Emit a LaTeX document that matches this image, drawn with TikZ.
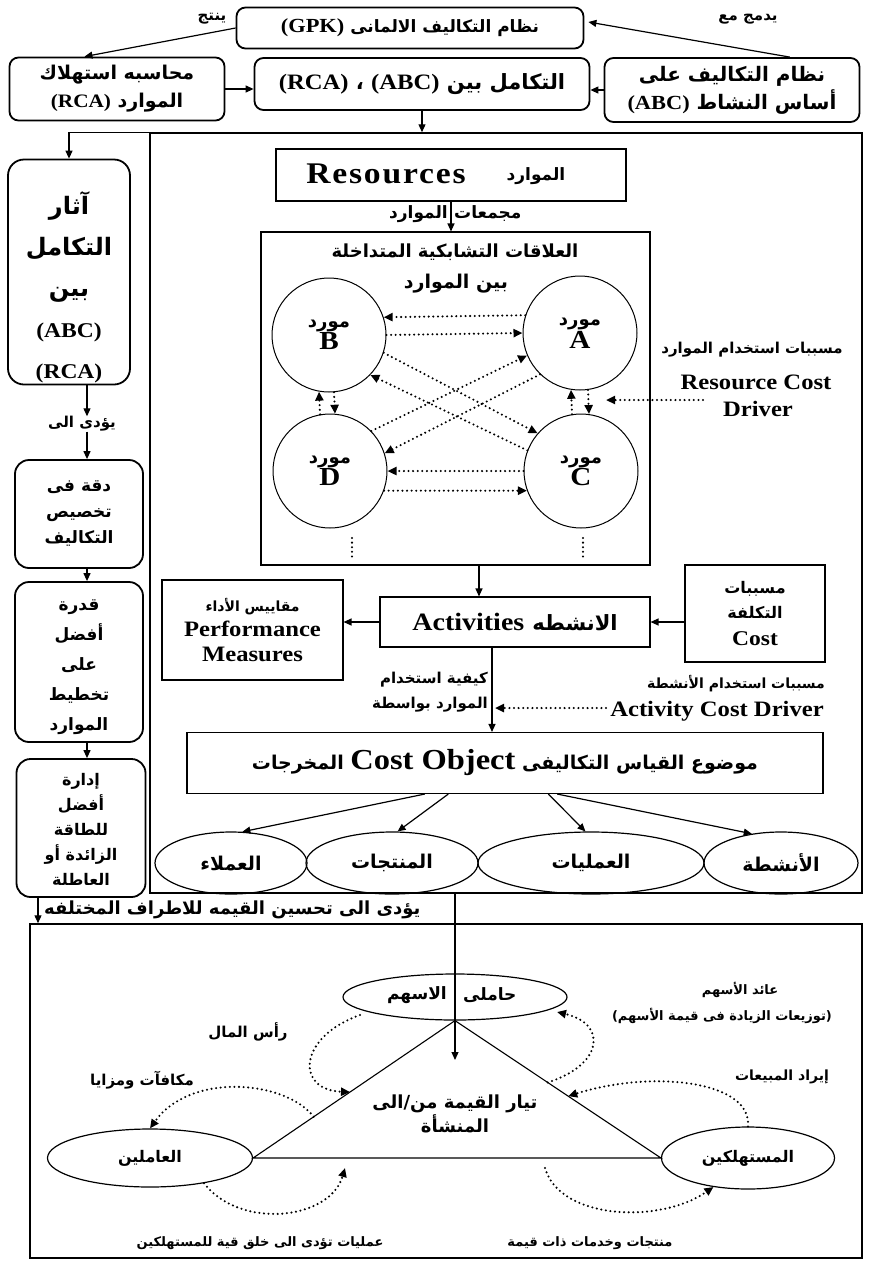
\documentclass[tikz,border=0pt]{standalone}
\usepackage{fontspec}
\setmainfont[FakeStretch=1.12]{Liberation Serif}
\newfontfamily\arabicfont[Script=Arabic]{DejaVu Sans}
\TeXXeTstate=1
\usetikzlibrary{arrows.meta,calc,shapes.geometric}
\newcommand\AR[1]{{\arabicfont\bfseries\beginR #1\endR}}
\newcommand\EN[1]{\beginL{\rmfamily\bfseries #1}\endL}
\newcommand\fsz[2]{\fontsize{#1}{#2}\selectfont}
\begin{document}
\begin{tikzpicture}[x=1pt,y=-1pt,
  rbox/.style={draw,line width=1.8pt,rounded corners=9pt,align=center,inner sep=1pt},
  sbox/.style={draw,line width=1.1pt,align=center,inner sep=1pt},
  lbl/.style={align=center,inner sep=0pt},
  arr/.style={line width=1.2pt,-{Triangle[length=8pt,width=7pt]}},
  darr/.style={line width=2.3pt,line cap=round,dash pattern=on 0pt off 4.6pt,-{Triangle[length=9pt,width=8pt]}},
  dline/.style={line width=2.3pt,line cap=round,dash pattern=on 0pt off 4.6pt},
  res/.style={draw,circle,line width=1pt,minimum size=114,align=center,inner sep=0pt},
  elli/.style={draw,ellipse,line width=1.2pt,align=center,inner sep=0pt}]
\useasboundingbox (0,0) rectangle (875,1267);
\fill[white] (0,0) rectangle (875,1267);

% ---------- top row ----------
\node[rbox,minimum width=347,minimum height=41] (gpk) at (410,28) {\fsz{17}{20}\AR{نظام التكاليف الالمانى \EN{\fsz{20}{20}(GPK)}}};
\node[rbox,minimum width=215,minimum height=63,font=\fsz{19}{28}] (rca) at (117,89) {\AR{محاسبه استهلاك}\\\AR{الموارد \EN{(RCA)}}};
\node[rbox,minimum width=335,minimum height=52] (integ) at (422,84) {\fsz{21}{22}\AR{التكامل بين \EN{\fsz{22}{22}(ABC)} ، \EN{\fsz{22}{22}(RCA)}}};
\node[rbox,minimum width=255,minimum height=64,font=\fsz{20}{28}] (abc) at (732,90) {\AR{نظام التكاليف على}\\\AR{أساس النشاط \EN{(ABC)}}};
\node[lbl] (ynt) at (212,19) {\fsz{15}{17}\AR{ينتج}};
\node[lbl] (ydm) at (748,19) {\fsz{15}{17}\AR{يدمج مع}};
\draw[arr] (gpk.west) -- ($(rca.north)!0.3!(rca.north west)$);
\draw[arr] ($(abc.north)!0.45!(abc.north east)$) -- ($(gpk.east)+(4,-6)$);
\draw[arr] (rca.east) -- (rca.east -| integ.west);
\draw[arr] (abc.west) -- (abc.west -| integ.east);

% ---------- big box ----------
\node[draw,line width=1.5pt,minimum width=712,minimum height=760,inner sep=0pt] (big) at (506,513) {};
\draw[arr] (integ.south) -- (integ.south |- big.north);

% ---------- left column ----------
\node[rbox,rounded corners=16pt,minimum width=122,minimum height=225] (box1) at (69,272) {};
\node[lbl,font=\fsz{24}{41}] (box1t) at (69,287)
  {\AR{آثار}\\\AR{التكامل}\\\AR{بين}\\\EN{\fsz{21}{38}(ABC)}\\\EN{\fsz{21}{36}(RCA)}};
\draw[arr] (big.north west) -| (box1.north);
\coordinate (lx) at (87,0);
\node[lbl] (yd) at (82,424) {\fsz{15}{17}\AR{يؤدى الى}};
\node[rbox,rounded corners=14pt,minimum width=128,minimum height=108,font=\fsz{17}{26}] (box2) at (79,514)
  {\AR{دقة فى}\\\AR{تخصيص}\\\AR{التكاليف}};
\node[rbox,rounded corners=14pt,minimum width=128,minimum height=160] (box3) at (79,662) {};
\node[lbl,font=\fsz{17}{30}] (box3t) at (79,667)
  {\AR{قدرة}\\\AR{أفضل}\\\AR{على}\\\AR{تخطيط}\\\AR{الموارد}};
\node[rbox,rounded corners=14pt,minimum width=129,minimum height=138] (box4) at (81,828) {};
\node[lbl,font=\fsz{16}{25}] (box4t) at (81,829)
  {\AR{إدارة}\\\AR{أفضل}\\\AR{للطاقة}\\\AR{الزائدة أو}\\\AR{العاطلة}};
\draw[arr] (box1.south -| lx) -- (yd.north -| lx);
\draw[arr] (yd.south -| lx) -- (box2.north -| lx);
\draw[arr] (box2.south -| lx) -- (box3.north -| lx);
\draw[arr] (box3.south -| lx) -- (box4.north -| lx);

% ---------- resources ----------
\node[sbox,minimum width=350,minimum height=52] (res) at (451,175) {};
\node[lbl] (resen) at (386,174) {\fsz{30}{30}\EN{\addfontfeature{LetterSpace=6}Resources}};
\node[lbl] (resar) at (536,176) {\fsz{17}{18}\AR{الموارد}};
\node[draw,line width=1.1pt,minimum width=389,minimum height=333,inner sep=0pt] (inner) at (455.5,398.5) {};
\draw[arr] (res.south) -- (res.south |- inner.north);
\node[lbl,anchor=west] (mj1) at (454,214) {\fsz{17}{19}\AR{مجمعات}};
\node[lbl,anchor=east] (mj2) at (448,214) {\fsz{17}{19}\AR{الموارد}};
\node[lbl] (t1) at (455,252) {\fsz{18}{20}\AR{العلاقات التشابكية المتداخلة}};
\node[lbl] (t2) at (456,284) {\fsz{19}{21}\AR{بين الموارد}};

\node[res] (B) at (329,335) {\fsz{18}{26}\AR{مورد}\\\fsz{26}{28}\EN{B}};
\node[res] (A) at (580,333) {\fsz{18}{26}\AR{مورد}\\\fsz{26}{28}\EN{A}};
\node[res] (D) at (330,471) {\fsz{18}{26}\AR{مورد}\\\fsz{26}{28}\EN{D}};
\node[res] (C) at (581,471) {\fsz{18}{26}\AR{مورد}\\\fsz{26}{28}\EN{C}};

\draw[darr] (A.162) -- (B.18);
\draw[darr] (B.0) -- (A.180);
\draw[darr] (C.180) -- (D.0);
\draw[darr] (D.-20) -- (C.200);
\draw[darr] (B.-18) -- (C.139);
\draw[darr] (C.159) -- (B.-44);
\draw[darr] (D.44) -- (A.203);
\draw[darr] (A.226) -- (D.18);
\draw[darr] (D.100) -- (B.260);
\draw[darr] (B.275) -- (D.85);
\draw[darr] (C.99) -- (A.261);
\draw[darr] (A.278) -- (C.82);
\coordinate (dd1) at (352,538);
\coordinate (dd2) at (352,560);
\coordinate (dc1) at (583,538);
\coordinate (dc2) at (583,560);
\draw[dline] (dd1) -- (dd2);
\draw[dline] (dc1) -- (dc2);

\node[lbl] (rc1) at (752,350) {\fsz{15}{17}\AR{مسببات استخدام الموارد}};
\node[lbl] (rc2) at (756,382) {\fsz{22}{24}\EN{Resource Cost}};
\node[lbl] (rc3) at (758,409) {\fsz{22}{24}\EN{Driver}};
\coordinate (rcs) at (703,400);
\coordinate (rce) at (606,400);
\draw[darr] (rcs) -- (rce);

% ---------- activities ----------
\node[sbox,minimum width=270,minimum height=50] (act) at (515,622)
  {\fsz{25}{27}\EN{Activities}\hspace{8pt}\fsz{21}{24}\AR{الانشطه}};
\node[sbox,minimum width=181,minimum height=100,font=\fsz{22}{25}] (perf) at (252.5,630)
  {\fsz{14}{25}\AR{مقاييس الأداء}\\\EN{Performance}\\\EN{Measures}};
\node[sbox,minimum width=140,minimum height=97,font=\fsz{16}{25}] (cost) at (755,613.5)
  {\AR{مسببات}\\\AR{التكلفة}\\[2pt]\EN{\fsz{21}{25}Cost}};
\coordinate (ix) at (479,0);
\draw[arr] (inner.south -| ix) -- (act.north -| ix);
\draw[arr] (act.west) -- (act.west -| perf.east);
\draw[arr] (cost.west |- act.east) -- (act.east);

\node[sbox,minimum width=636,minimum height=61] (co) at (505,763)
  {\fsz{19}{24}\AR{موضوع القياس التكاليفى \EN{\fsz{29}{30}Cost Object} المخرجات}};
\coordinate (ax) at (492,0);
\draw[arr] (act.south -| ax) -- (co.north -| ax);
\node[lbl,anchor=east] (k1) at (488,680) {\fsz{15}{17}\AR{كيفية استخدام}};
\node[lbl,anchor=east] (k2) at (488,705) {\fsz{15}{17}\AR{الموارد بواسطة}};
\node[lbl] (m1) at (736,684) {\fsz{14}{16}\AR{مسببات استخدام الأنشطة}};
\node[lbl] (m2) at (717,711) {\fsz{22}{24}\EN{Activity Cost Driver}};
\coordinate (acs) at (606,708);
\coordinate (ace) at (495,708);
\draw[darr] (acs) -- (ace);

\node[elli,minimum width=152,minimum height=62] (cust) at (231,863) {\fsz{19}{21}\AR{العملاء}};
\node[elli,minimum width=172,minimum height=62] (prod) at (392,863) {\fsz{19}{21}\AR{المنتجات}};
\node[elli,minimum width=226,minimum height=62] (ops) at (591,863) {\fsz{19}{21}\AR{العمليات}};
\node[elli,minimum width=154,minimum height=62] (acts) at (781,863) {\fsz{19}{21}\AR{الأنشطة}};
\draw[arr] ($(co.south west)!0.374!(co.south east)$) -- (cust.70);
\draw[arr] ($(co.south west)!0.411!(co.south east)$) -- (prod.80);
\draw[arr] ($(co.south west)!0.568!(co.south east)$) -- (ops.100);
\draw[arr] ($(co.south west)!0.582!(co.south east)$) -- (acts.135);

% ---------- bottom ----------
\node[lbl,anchor=west] (ydt) at (44,910) {\fsz{18}{20}\AR{يؤدى الى تحسين القيمه للاطراف المختلفه}};
\node[draw,line width=1.5pt,minimum width=832,minimum height=334,inner sep=0pt] (bot) at (446,1091) {};
\coordinate (bx) at (38,0);
\draw[arr] (box4.south -| bx) -- (bot.north -| bx);

\node[elli,minimum width=224,minimum height=46] (sh) at (455,997) {};
\node[lbl,anchor=west] (sh1) at (463,995) {\fsz{17}{19}\AR{حاملى}};
\node[lbl,anchor=east] (sh2) at (447,995) {\fsz{17}{19}\AR{الاسهم}};
\node[elli,minimum width=205,minimum height=58] (work) at (150,1158) {\fsz{16}{18}\AR{العاملين}};
\node[elli,minimum width=173,minimum height=62] (cons) at (748,1158) {\fsz{16}{18}\AR{المستهلكين}};
\coordinate (fe) at (455,1060);
\draw[arr] (sh.south |- big.south) -- (fe);
\draw[line width=1.1pt] (sh.south) -- (work.east) -- (cons.west) -- cycle;
\node[lbl,font=\fsz{18}{24}] (flow) at (455,1114) {\AR{تيار القيمة من/الى}\\\AR{المنشأة}};

\coordinate (c1s) at (360,1015);
\coordinate (c1e) at ($(sh.south)!0.52!(work.east)$);
\draw[darr] (c1s) .. controls (298,1037) and (295,1090) .. (c1e);
\node[lbl] (capl) at (248,1032) {\fsz{15}{17}\AR{رأس المال}};

\coordinate (c2s) at ($(sh.south)!0.45!(cons.west)$);
\coordinate (c2e) at (557,1012);
\draw[darr] (c2s) .. controls (603,1065) and (608,1024) .. (c2e);
\node[lbl] (dv1) at (740,990) {\fsz{13}{15}\AR{عائد الأسهم}};
\node[lbl] (dv2) at (722,1016) {\fsz{13}{15}\AR{(توزيعات الزيادة فى قيمة الأسهم)}};

\coordinate (c3s) at ($(sh.south)!0.7!(work.east)$);
\draw[darr] (c3s) .. controls (285,1080) and (190,1072) .. (work.north);
\node[lbl] (rew) at (142,1080) {\fsz{15}{17}\AR{مكافآت ومزايا}};

\coordinate (c4e) at ($(sh.south)!0.55!(cons.west)$);
\draw[darr] (cons.north) .. controls (752,1080) and (650,1070) .. (c4e);
\node[lbl] (sal) at (782,1077) {\fsz{14}{16}\AR{إيراد المبيعات}};

\coordinate (c5e) at (345,1168);
\draw[darr] (work.-25) .. controls (240,1230) and (330,1220) .. (c5e);
\node[lbl] (opl) at (260,1243) {\fsz{13}{15}\AR{عمليات تؤدى الى خلق قية للمستهلكين}};

\coordinate (c6s) at (545,1168);
\draw[darr] (c6s) .. controls (560,1220) and (660,1224) .. (cons.-140);
\node[lbl] (prl) at (590,1243) {\fsz{13}{15}\AR{منتجات وخدمات ذات قيمة}};
\end{tikzpicture}
\end{document}
